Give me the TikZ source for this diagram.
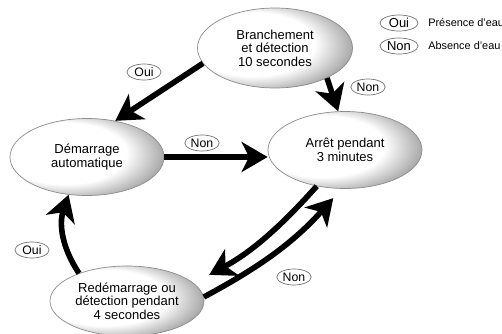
\documentclass[tikz,border=0pt]{standalone}
\usepackage{fontspec}
\setmainfont{Liberation Sans}
\usetikzlibrary{arrows.meta,shapes.geometric}
\pgfdeclareradialshading{eggshade}{\pgfpoint{-12bp}{4bp}}{color(0bp)=(white); color(20bp)=(white); color(38bp)=(black!62); color(50bp)=(black!62)}

\begin{document}
\begin{tikzpicture}[>={Stealth[length=0.52cm,width=0.6cm,inset=0.15cm]},
  state/.style={ellipse,draw=black!45,line width=0.4pt,shade,shading=eggshade,align=center,inner sep=0pt,minimum width=3.08cm,minimum height=1.54cm,font=\fontsize{7.4}{7.6}\selectfont},
  tag/.style={ellipse,draw=black!55,line width=0.4pt,fill=white,inner xsep=0.5pt,inner ysep=0pt,text height=5pt,text depth=0pt,minimum width=0.68cm,minimum height=0.32cm,font=\fontsize{7}{7}\selectfont},
  note/.style={anchor=west,inner sep=0pt,font=\fontsize{6.2}{6.2}\selectfont},
  flow/.style={->,line width=3.2pt}]
\useasboundingbox (0,0) rectangle (10.04,-6.66);
\node[state,minimum width=3.1cm,minimum height=1.6cm] (br) at (5.50,-0.96) {Branchement\\et détection\\10 secondes};
\node[state] (dem) at (1.74,-3.14) {Démarrage\\automatique};
\node[state] (arr) at (6.90,-3.00) {Arrêt pendant\\3 minutes};
\node[state,minimum height=1.4cm] (red) at (2.54,-6.02) {Redémarrage ou\\détection pendant\\4 secondes};
\draw[flow] (br.192) -- (dem.52);
\draw[flow] (br.-30) -- (arr.100);
\draw[flow] (dem.east) -- (dem.east -| arr.west);
\draw[flow,shorten >=0.35cm] (arr.232) to[bend left=10] (red.15);
\draw[flow,shorten >=0.25cm] (red.3) to[bend right=10] (arr.265);
\draw[flow] (red.150) to[bend left=26] (dem.244);
\node[tag] (oui1) at (2.88,-1.44) {Oui};
\node[tag] (non2) at (7.36,-1.74) {Non};
\node[tag] (non3) at (4.04,-2.86) {Non};
\node[tag] (non5) at (5.88,-5.54) {Non};
\node[tag] (oui6) at (0.64,-5.00) {Oui};
\node[tag,minimum width=0.76cm,font=\fontsize{7.4}{7.4}\selectfont] (koui) at (7.98,-0.46) {Oui};
\node[tag,minimum width=0.76cm,font=\fontsize{7.4}{7.4}\selectfont] (knon) at (7.98,-0.92) {Non};
\node[note] (tpres) at (8.56,-0.46) {Présence d'eau};
\node[note] (tabs) at (8.56,-0.92) {Absence d'eau};
\end{tikzpicture}
\end{document}
